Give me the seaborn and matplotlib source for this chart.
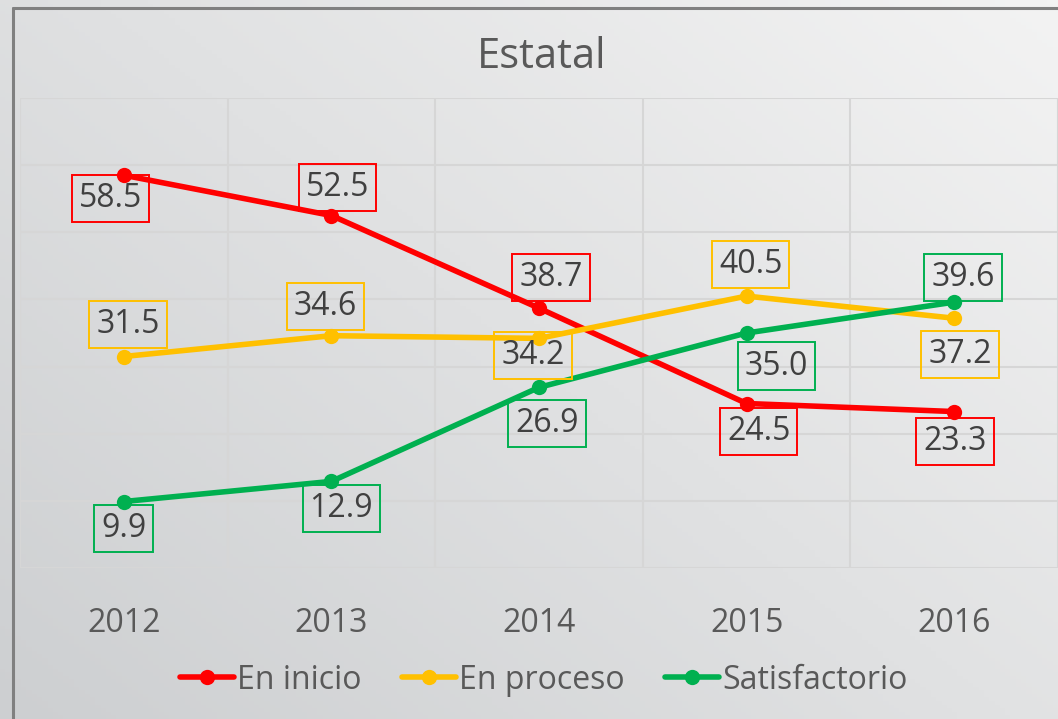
import matplotlib.pyplot as plt
import seaborn as sns
import pandas as pd
import numpy as np

# data
years = [2012, 2013, 2014, 2015, 2016]
en_inicio = [58.5, 52.5, 38.7, 24.5, 23.3]
en_proceso = [31.5, 34.6, 34.2, 40.5, 37.2]
satisfactorio = [9.9, 12.9, 26.9, 35.0, 39.6]
series_names = ["En inicio", "En proceso", "Satisfactorio"]

colors = {"En inicio": "#FF0000", "En proceso": "#FFC000", "Satisfactorio": "#00B050"}

# label box offsets (pixels, relative to the point)
label_offsets = {
    "En inicio": [(-13, -23), (6, 28), (12, 31), (12, -28), (1, -30)],
    "En proceso": [(4, 32), (-6, 29), (-6, -17), (4, 32), (6, -36)],
    "Satisfactorio": [(0, -27), (10, -27), (8, -36), (30, -33), (9, 25)],
}

df = pd.DataFrame({
    "Año": years * 3,
    "Valor": en_inicio + en_proceso + satisfactorio,
    "Serie": [s for s in series_names for _ in years],
})

sns.set_theme(style="white")
plt.rcParams["font.family"] = ["Open Sans", "DejaVu Sans"]

fig = plt.figure(figsize=(10.58, 7.19), dpi=100)

# gradient background
bg = fig.add_axes([0, 0, 1, 1], zorder=-10)
gx, gy = np.meshgrid(np.linspace(0, 1, 200), np.linspace(0, 1, 200))
grad = 0.55 * gx + 0.45 * gy
bg.imshow(grad, cmap=sns.blend_palette(["#cdcfd1", "#f3f3f3"], as_cmap=True),
          extent=[0, 1, 0, 1], origin="lower", aspect="auto")
bg.set_axis_off()

# outer frame line
fig.add_artist(plt.Line2D([0.0123, 0.0123], [0, 0.989], color="#808080", lw=2.2))
fig.add_artist(plt.Line2D([0.0123, 1.0], [0.989, 0.989], color="#808080", lw=2.2))

ax = fig.add_axes([0.0189, 0.21, 0.9811, 0.6537])
ax.patch.set_alpha(0)

sns.lineplot(data=df, x="Año", y="Valor", hue="Serie", palette=colors,
             marker="o", markersize=11, markeredgewidth=0, linewidth=4,
             ax=ax, legend=True)

ax.set_xlim(2011.5, 2016.5)
ax.set_ylim(0, 70)
ax.set_yticks(range(0, 71, 10))
ax.set_yticklabels([])
ax.set_xticks(years)
ax.set_xticklabels([str(y) for y in years], fontsize=23, color="#595959")
ax.set_xticks([y + 0.5 for y in [2011] + years], minor=True)
ax.tick_params(axis="x", which="both", length=0, pad=28)
ax.tick_params(axis="y", length=0)
ax.grid(axis="y", which="major", color="#d6d6d6", lw=1.5)
ax.grid(axis="x", which="minor", color="#d6d6d6", lw=1.5)
ax.grid(axis="x", which="major", visible=False)
for sp in ax.spines.values():
    sp.set_visible(False)
ax.set_xlabel("")
ax.set_ylabel("")

vals = {"En inicio": en_inicio, "En proceso": en_proceso, "Satisfactorio": satisfactorio}
for name in series_names:
    for yr, v, (dx, dy) in zip(years, vals[name], label_offsets[name]):
        ax.annotate(f"{v:.1f}", xy=(yr, v), xytext=(dx, dy), textcoords="offset pixels",
                    ha="center", va="center", fontsize=23, color="#404040", zorder=5,
                    bbox=dict(boxstyle="square,pad=0.22", fc="none", ec=colors[name], lw=1.4))

fig.text(0.512, 0.921, "Estatal", ha="center", va="center", fontsize=30, color="#595959")

handles, labels = ax.get_legend_handles_labels()
ax.legend(handles, labels, loc="center", bbox_to_anchor=(0.514, 0.054),
          bbox_transform=fig.transFigure, ncol=3, frameon=False, fontsize=23,
          labelcolor="#595959", handlelength=1.7, handletextpad=0.1, columnspacing=1.25)

fig.savefig("out.png", dpi=100)
